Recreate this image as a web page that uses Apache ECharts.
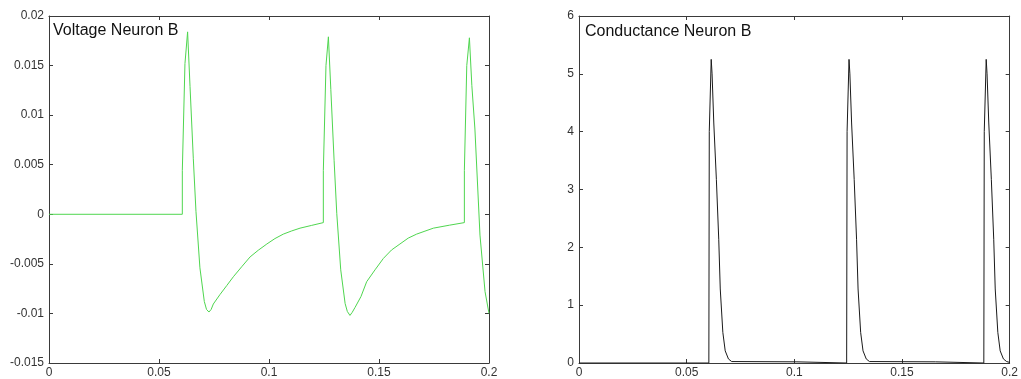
<!DOCTYPE html>
<html>
<head>
<meta charset="utf-8">
<script src="https://cdn.jsdelivr.net/npm/echarts@6/dist/echarts.min.js"></script>
<style>
html,body{margin:0;padding:0;background:#fff;}
#chart{width:1021px;height:379px;}
</style>
</head>
<body>
<div id="chart"></div>
<script>
// ---- data ----
const titles = ["Voltage Neuron B", "Conductance Neuron B"];
const xTicks = [0, 0.05, 0.1, 0.15, 0.2];
const voltTicks = [-0.015, -0.01, -0.005, 0, 0.005, 0.01, 0.015, 0.02];
const condTicks = [0, 1, 2, 3, 4, 5, 6];

// Voltage Neuron B (time s, value)
const voltT = [0, 0.0606, 0.0606, 0.0618, 0.0630, 0.0641, 0.0656, 0.0668, 0.0686, 0.0706, 0.0716, 0.0727, 0.0737, 0.0747, 0.0777, 0.0808, 0.0838, 0.0876, 0.0914, 0.0951, 0.0990, 0.1027, 0.1065, 0.1103, 0.1141, 0.1194, 0.1247,
  0.1247, 0.1259, 0.1270, 0.1281, 0.1296, 0.1308, 0.1326, 0.1346, 0.1356, 0.1368, 0.1378, 0.1391, 0.1418, 0.1444, 0.1482, 0.1520, 0.1557, 0.1595, 0.1633, 0.1671, 0.1709, 0.1747, 0.1820, 0.1888,
  0.1888, 0.1899, 0.1911, 0.1922, 0.1936, 0.1959, 0.1982, 0.2000];
const voltV = [0, 0, 0.0044, 0.0152, 0.0184, 0.0129, 0.0056, 0.0003, -0.0054, -0.0088, -0.0096, -0.00986, -0.0096, -0.00905, -0.0081, -0.00719, -0.0063, -0.00529, -0.0043, -0.00363, -0.0030, -0.00245, -0.0020, -0.00168, -0.0014, -0.00112, -0.00084,
  0.0044, 0.0150, 0.0179, 0.0126, 0.0054, 0.0001, -0.0056, -0.0090, -0.0098, -0.0102, -0.0099, -0.0094, -0.0083, -0.0068, -0.0056, -0.00445, -0.0036, -0.0030, -0.0024, -0.0020, -0.0017, -0.0014, -0.0011, -0.00084,
  0.0044, 0.0150, 0.0178, 0.0130, 0.0086, -0.0021, -0.0078, -0.0100];

// Conductance Neuron B (time s, value)
const condT = [0, 0.0603, 0.0605, 0.0614, 0.0618, 0.0626, 0.0638, 0.0649, 0.0656, 0.0668, 0.0679, 0.0694, 0.0709, 0.1012, 0.1020,
  0.1243, 0.1245, 0.1254, 0.1258, 0.1266, 0.1278, 0.1289, 0.1296, 0.1308, 0.1319, 0.1334, 0.1349, 0.1655, 0.1663,
  0.1880, 0.1882, 0.1891, 0.1895, 0.1903, 0.1915, 0.1926, 0.1933, 0.1945, 0.1956, 0.1971, 0.1986, 0.2000];
const condV = [0, 0, 4.0, 5.25, 5.0, 4.15, 3.17, 2.14, 1.28, 0.53, 0.21, 0.07, 0.025, 0.02, 0,
  0, 4.0, 5.25, 5.0, 4.15, 3.17, 2.14, 1.28, 0.53, 0.21, 0.07, 0.025, 0.02, 0,
  0, 4.0, 5.25, 5.0, 4.15, 3.17, 2.14, 1.28, 0.53, 0.21, 0.07, 0.025, 0.01];

// ---- build chart ----
const font = 'Liberation Sans, Arial, sans-serif';
const axisColor = '#3a3a3a';
const labelColor = '#333';

function range(arr){ return {min: arr[0], max: arr[arr.length-1], interval: +(arr[1]-arr[0]).toFixed(6)}; }
const xr = range(xTicks), vr = range(voltTicks), cr = range(condTicks);

function xAx(grid, pos, showLabel){
  return {type:'value', gridIndex:grid, position:pos, min:xr.min, max:xr.max, interval:xr.interval,
    axisLine:{show:true, onZero:false, lineStyle:{color:axisColor, width:1}},
    axisTick:{show:true, inside:true, length:4, lineStyle:{color:axisColor}},
    axisLabel:{show:showLabel, color:labelColor, fontSize:12, fontFamily:font, margin:4, showMinLabel:true, showMaxLabel:true},
    splitLine:{show:false}};
}
function yAx(grid, pos, r, showLabel){
  return {type:'value', gridIndex:grid, position:pos, min:r.min, max:r.max, interval:r.interval,
    axisLine:{show:true, onZero:false, lineStyle:{color:axisColor, width:1}},
    axisTick:{show:true, inside:true, length:4, lineStyle:{color:axisColor}},
    axisLabel:{show:showLabel, color:labelColor, fontSize:12, fontFamily:font, margin:5, showMinLabel:true, showMaxLabel:true},
    splitLine:{show:false}};
}

const option = {
  backgroundColor:'#fff',
  animation:false,
  title:[
    {text:titles[0], left:53, top:23, padding:0, textStyle:{fontSize:16, fontWeight:'normal', fontFamily:font, color:'#111'}},
    {text:titles[1], left:585, top:24, padding:0, textStyle:{fontSize:16, fontWeight:'normal', fontFamily:font, color:'#111'}}
  ],
  grid:[
    {left:49, width:440, top:16, bottom:15},
    {left:579, width:440, top:16, bottom:15}
  ],
  xAxis:[ xAx(0,'bottom',true), xAx(0,'top',false), xAx(1,'bottom',true), xAx(1,'top',false) ],
  yAxis:[ yAx(0,'left',vr,true), yAx(0,'right',vr,false), yAx(1,'left',cr,true), yAx(1,'right',cr,false) ],
  series:[
    {type:'line', xAxisIndex:0, yAxisIndex:0, showSymbol:false, symbol:'none',
      data: voltT.map((t,i)=>[t, voltV[i]]), lineStyle:{color:'#4fd64f', width:1}, z:3},
    {type:'line', xAxisIndex:2, yAxisIndex:2, showSymbol:false, symbol:'none',
      data: condT.map((t,i)=>[t, condV[i]]), lineStyle:{color:'#1a1a1a', width:1}, z:3}
  ]
};
const chart = echarts.init(document.getElementById('chart'), null, {renderer:'canvas'});
chart.setOption(option);
</script>
</body>
</html>
